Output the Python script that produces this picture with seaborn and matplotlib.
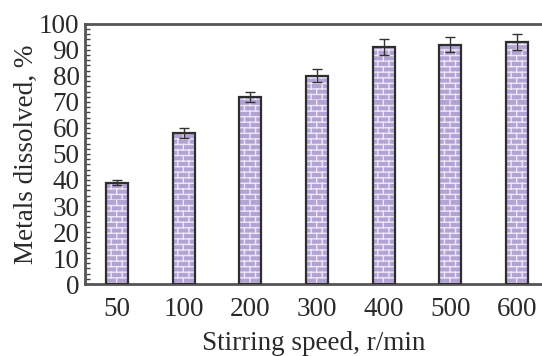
import warnings
import numpy as np
import pandas as pd
import matplotlib
matplotlib.use("Agg")
import matplotlib.pyplot as plt
import matplotlib.hatch as mhatch
from matplotlib.path import Path
from matplotlib.patches import Rectangle
from matplotlib.ticker import MultipleLocator
import seaborn as sns

warnings.filterwarnings("ignore")

# Stirring speed series
speeds = ["50", "100", "200", "300", "400", "500", "600"]
dissolved = [39, 58, 72, 80, 91, 92, 93]
errors = [1, 2, 2, 2.5, 3, 3, 3]


class BrickHatch(mhatch.HatchPatternBase):
    """Running-bond brick texture, triggered by the 'b' hatch character."""

    def __init__(self, hatch, density):
        on = hatch.count("b") > 0
        self.rows = 18 if on else 0
        self.cols = 9
        self.num_vertices = (self.rows + self.rows * self.cols) * 2

    def set_vertices_and_codes(self, vertices, codes):
        r, c = self.rows, self.cols
        h, w = 1.0 / r, 1.0 / c
        pts = []
        for i in range(r):
            pts += [(0.0, i * h), (1.0, i * h)]
        for i in range(r):
            off = w / 2 if i % 2 else 0.0
            for j in range(c):
                x = j * w + off
                pts += [(x, i * h), (x, (i + 1) * h)]
        vertices[:] = np.array(pts)
        codes[0::2] = Path.MOVETO
        codes[1::2] = Path.LINETO


mhatch._hatch_types.append(BrickHatch)

sns.set_style("ticks")
plt.rcParams["font.family"] = ["Liberation Serif", "DejaVu Serif"]
plt.rcParams["hatch.linewidth"] = 1.0

df = pd.DataFrame({"speed": speeds, "dissolved": dissolved})

fig = plt.figure(figsize=(5.42, 3.56), dpi=100)
ax = fig.add_axes([0.157, 0.202, 0.843, 0.731])

sns.barplot(data=df, x="speed", y="dissolved", order=speeds, color="#b3a3d5",
            saturation=1, width=0.33, edgecolor="#ece7f6", linewidth=0,
            hatch="b", errorbar=None, ax=ax)

# outline each bar on top of its brick texture
for p in list(ax.patches):
    ax.add_patch(Rectangle(p.get_xy(), p.get_width(), p.get_height(),
                           fill=False, edgecolor="#2e2e2e", lw=1.6, zorder=3))

ax.errorbar(np.arange(len(speeds)), dissolved, yerr=errors, fmt="none",
            ecolor="#333333", elinewidth=1.0, capsize=3.5, capthick=1.0, zorder=4)

ax.set_xlim(-0.48, 6.375)
ax.set_ylim(0, 100)
ax.yaxis.set_major_locator(MultipleLocator(10))
ax.yaxis.set_minor_locator(MultipleLocator(2))
ax.tick_params(axis="y", which="both", direction="in", length=3.5, width=1.0,
               color="#444444", labelsize=19.5, labelcolor="#2a2a2a", pad=4)
ax.tick_params(axis="x", length=0, labelsize=19.5, labelcolor="#2a2a2a", pad=9)

for side in ["left", "bottom", "top"]:
    ax.spines[side].set_visible(True)
    ax.spines[side].set_color("#555555")
    ax.spines[side].set_linewidth(2.0)
ax.spines["right"].set_visible(False)

ax.set_xlabel("Stirring speed, r/min", fontsize=19.5, color="#2a2a2a", labelpad=7)
ax.set_ylabel("Metals dissolved, %", fontsize=19.5, color="#2a2a2a", labelpad=0)

fig.savefig("out.png", dpi=100)
